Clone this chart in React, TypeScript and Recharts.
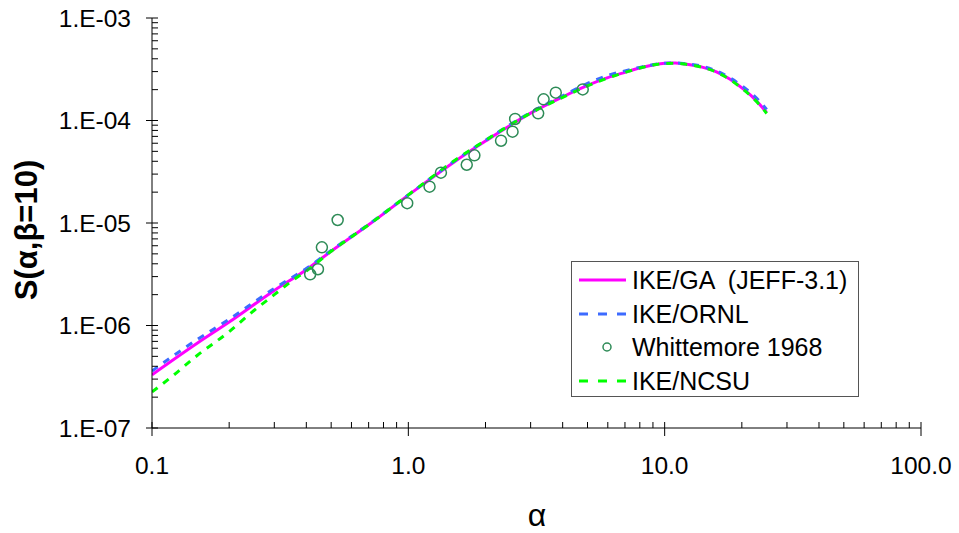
import { ComposedChart, Line, Scatter, XAxis, YAxis, Legend } from 'recharts';

// alpha grid of the calculated curves
const lineAlpha = [0.1, 0.15, 0.2, 0.3, 0.4, 0.5, 0.7, 1, 1.5, 2, 3, 4, 5, 6, 7, 8, 9, 10, 11, 12, 14, 16, 18, 20, 22, 24, 25];
const gaS = [3.3e-7, 6.7e-7, 1.08e-6, 2.2e-6, 3.5e-6, 5.3e-6, 9.6e-6, 1.87e-5, 3.9e-5, 6.3e-5, 1.18e-4, 1.7e-4, 2.2e-4, 2.62e-4, 2.95e-4, 3.25e-4, 3.48e-4, 3.62e-4, 3.64e-4, 3.56e-4, 3.32e-4, 2.97e-4, 2.52e-4, 2.08e-4, 1.7e-4, 1.35e-4, 1.2e-4];
const ornlS = [3.6e-7, 7.3e-7, 1.15e-6, 2.3e-6, 3.6e-6, 5.4e-6, 9.7e-6, 1.88e-5, 3.95e-5, 6.4e-5, 1.2e-4, 1.74e-4, 2.3e-4, 2.75e-4, 3.05e-4, 3.3e-4, 3.5e-4, 3.62e-4, 3.64e-4, 3.58e-4, 3.38e-4, 3.03e-4, 2.6e-4, 2.18e-4, 1.8e-4, 1.45e-4, 1.28e-4];

const ncsuAlpha = [0.1, 0.12, 0.15, 0.2, 0.25, 0.3, 0.35, 0.4, 0.5, 0.7, 1, 1.5, 2, 3, 4, 5, 6, 7, 8, 9, 10, 11, 12, 14, 16, 18, 20, 22, 24, 25];
const ncsuS = [2.25e-7, 3.2e-7, 5.1e-7, 8.7e-7, 1.4e-6, 2.0e-6, 2.7e-6, 3.4e-6, 5.3e-6, 9.6e-6, 1.88e-5, 4.0e-5, 6.4e-5, 1.18e-4, 1.68e-4, 2.18e-4, 2.6e-4, 2.94e-4, 3.25e-4, 3.48e-4, 3.6e-4, 3.62e-4, 3.55e-4, 3.3e-4, 2.95e-4, 2.5e-4, 2.06e-4, 1.68e-4, 1.33e-4, 1.17e-4];

// Whittemore 1968 measurements
const whitAlpha = [0.414, 0.444, 0.46, 0.53, 0.99, 1.21, 1.34, 1.69, 1.81, 2.3, 2.55, 2.61, 3.21, 3.37, 3.76, 4.79];
const whitS = [3.16e-6, 3.54e-6, 5.79e-6, 1.07e-5, 1.56e-5, 2.26e-5, 3.1e-5, 3.7e-5, 4.57e-5, 6.35e-5, 7.78e-5, 1.035e-4, 1.175e-4, 1.61e-4, 1.87e-4, 2.01e-4];

const xMajor = [0.1, 1, 10, 100];
const xLabels = ['0.1', '1.0', '10.0', '100.0'];
const yMajor = [1e-7, 1e-6, 1e-5, 1e-4, 1e-3];
const yLabels = ['1.E-07', '1.E-06', '1.E-05', '1.E-04', '1.E-03'];
const minorSteps = [1, 2, 3, 4, 5, 6, 7, 8, 9];

const xTicks = xMajor.slice(0, -1).flatMap((d) => minorSteps.map((m) => +(d * m).toPrecision(3))).concat(100);
const yTicks = yMajor.slice(0, -1).flatMap((d) => minorSteps.map((m) => +(d * m).toPrecision(3))).concat(1e-3);

const gaData = lineAlpha.map((a, i) => ({ a, s: gaS[i] }));
const ornlData = lineAlpha.map((a, i) => ({ a, s: ornlS[i] }));
const ncsuData = ncsuAlpha.map((a, i) => ({ a, s: ncsuS[i] }));
const whitData = whitAlpha.map((a, i) => ({ a, s: whitS[i] }));

const font = '"Liberation Sans", Arial, sans-serif';

const majorIndex = (list: number[], v: number) => list.findIndex((m) => Math.abs(m - v) / m < 1e-6);

const renderXTick = (props: any) => {
  const { x, y, payload } = props;
  const idx = majorIndex(xMajor, payload.value);
  return (
    <g>
      <line x1={x} x2={x} y1={y - 6} y2={idx >= 0 ? y + 8 : y} stroke="#000" strokeWidth={1} />
      {idx >= 0 && (
        <text x={x} y={y + 37} textAnchor="middle" dominantBaseline="central" fontSize={24.5} fill="#000" fontFamily={font}>
          {xLabels[idx]}
        </text>
      )}
    </g>
  );
};

const renderYTick = (props: any) => {
  const { x, y, payload } = props;
  const idx = majorIndex(yMajor, payload.value);
  return (
    <g>
      <line x1={idx >= 0 ? x - 6 : x} x2={x + 6} y1={y} y2={y} stroke="#000" strokeWidth={1} />
      {idx >= 0 && (
        <text x={x - 21} y={y} textAnchor="end" dominantBaseline="central" fontSize={24.5} fill="#000" fontFamily={font}>
          {yLabels[idx]}
        </text>
      )}
    </g>
  );
};

const legendItems = [
  { name: 'IKE/GA  (JEFF-3.1)', kind: 'line', color: '#FF00FF', dash: undefined },
  { name: 'IKE/ORNL', kind: 'line', color: '#3D6BFF', dash: '9 10' },
  { name: 'Whittemore 1968', kind: 'dot', color: '#2E8B57', dash: undefined },
  { name: 'IKE/NCSU', kind: 'line', color: '#00FF00', dash: '9 10' },
];

const renderLegend = () => (
  <div
    style={{
      position: 'relative',
      width: 288,
      height: 136,
      border: '1px solid #555',
      boxSizing: 'border-box',
      background: '#fff',
      fontFamily: font,
      fontSize: 25,
      color: '#000',
    }}
  >
    {legendItems.map((item, i) => (
      <div key={item.name} style={{ position: 'absolute', left: 0, top: 1 + i * 33.7, height: 34, width: 286 }}>
        <svg width={50} height={34} style={{ position: 'absolute', left: 6, top: 0 }}>
          {item.kind === 'line' ? (
            <line x1={1} x2={48} y1={17} y2={17} stroke={item.color} strokeWidth={3} strokeDasharray={item.dash} />
          ) : (
            <circle cx={29} cy={17} r={4} fill="none" stroke={item.color} strokeWidth={1.5} />
          )}
        </svg>
        <span style={{ position: 'absolute', left: 60, top: 0, lineHeight: '34px', whiteSpace: 'pre' }}>{item.name}</span>
      </div>
    ))}
  </div>
);

export default function App() {
  return (
    <div style={{ position: 'absolute', left: 0, top: 0, background: '#fff' }}>
      <ComposedChart width={959} height={533} margin={{ top: 18, right: 38, bottom: 0, left: 0 }} style={{ fontFamily: font }}>
        <XAxis
          dataKey="a"
          type="number"
          scale="log"
          domain={[0.1, 100]}
          allowDataOverflow
          ticks={xTicks}
          interval={0}
          tick={renderXTick}
          tickLine={false}
          tickSize={0}
          tickMargin={0}
          axisLine={{ stroke: '#000' }}
          height={105}
          label={() => (
            <text x={537} y={526} textAnchor="middle" fontSize={32} fill="#000" fontFamily={font}>
              α
            </text>
          )}
        />
        <YAxis
          type="number"
          scale="log"
          domain={[1e-7, 1e-3]}
          allowDataOverflow
          ticks={yTicks}
          interval={0}
          tick={renderYTick}
          tickLine={false}
          tickSize={0}
          tickMargin={0}
          axisLine={{ stroke: '#000' }}
          width={152}
          label={() => (
            <text
              x={26}
              y={230}
              transform="rotate(-90 26 230)"
              textAnchor="middle"
              dominantBaseline="central"
              fontSize={31}
              fontWeight="bold"
              fill="#000"
              fontFamily={font}
            >
              S(α,β=10)
            </text>
          )}
        />
        <Line data={gaData} dataKey="s" name="IKE/GA  (JEFF-3.1)" type="monotone" stroke="#FF00FF" strokeWidth={3} dot={false} activeDot={false} isAnimationActive={false} />
        <Line data={ornlData} dataKey="s" name="IKE/ORNL" type="monotone" stroke="#3D6BFF" strokeWidth={3} strokeDasharray="7 7" dot={false} activeDot={false} isAnimationActive={false} />
        <Line data={ncsuData} dataKey="s" name="IKE/NCSU" type="monotone" stroke="#00FF00" strokeWidth={3} strokeDasharray="7 7" dot={false} activeDot={false} isAnimationActive={false} />
        <Scatter
          data={whitData}
          dataKey="s"
          name="Whittemore 1968"
          isAnimationActive={false}
          shape={(p: any) => <circle cx={p.cx} cy={p.cy} r={5.5} fill="none" stroke="#2E8B57" strokeWidth={1.5} />}
        />
        <Legend
          layout="vertical"
          align="center"
          verticalAlign="middle"
          content={renderLegend}
          wrapperStyle={{ left: 571, top: 261, width: 288, height: 136 }}
        />
      </ComposedChart>
    </div>
  );
}
